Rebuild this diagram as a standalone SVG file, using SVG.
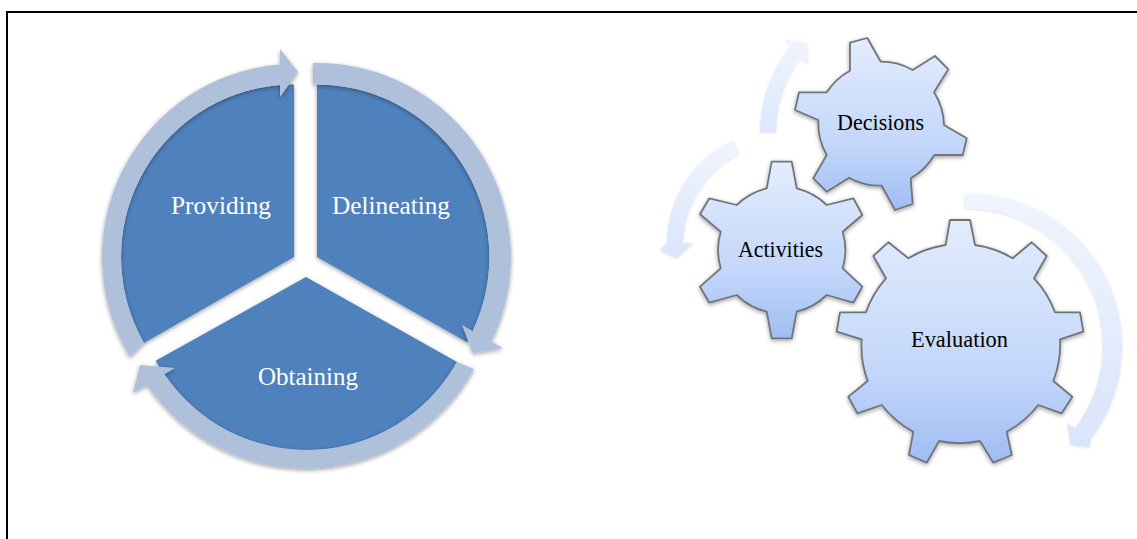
<svg xmlns="http://www.w3.org/2000/svg" width="1137" height="539" viewBox="0 0 1137 539">
<style>
.sector{fill:#4f81bd;filter:url(#sh)}
.ring{fill:#afc0da;filter:url(#sh)}
.gear{stroke:#70757d;stroke-width:1.8;stroke-linejoin:round;filter:url(#sh)}
.flow{filter:url(#soft)}
.w{font-family:"Liberation Serif",serif;font-size:25.5px;fill:#fff}
.b{font-family:"Liberation Serif",serif;font-size:22.5px;fill:#000}
</style>
<defs>
<filter id="sh" x="-15%" y="-15%" width="130%" height="130%"><feDropShadow dx="0" dy="1.5" stdDeviation="2" flood-color="#000" flood-opacity=".38"/></filter>
<filter id="soft" x="-20%" y="-20%" width="140%" height="140%"><feDropShadow dx="0" dy="1" stdDeviation="1.2" flood-color="#000" flood-opacity=".14"/></filter>
<linearGradient id="g" x1="0" y1="0" x2="0" y2="1"><stop offset="0" stop-color="#e3ecfd"/><stop offset=".62" stop-color="#c3d7fa"/><stop offset="1" stop-color="#9fbdf3"/></linearGradient>
<linearGradient id="a1" x1="0" y1="1" x2="0" y2="0"><stop offset="0" stop-color="#dce7fb"/><stop offset="1" stop-color="#f0f5fe"/></linearGradient>
<linearGradient id="a2" x1="0" y1="0" x2="0" y2="1"><stop offset="0" stop-color="#f0f5fe"/><stop offset="1" stop-color="#d9e5fb"/></linearGradient>
</defs>
<rect width="1137" height="539" fill="#fff"/>
<path d="M7,539V12H1137" fill="none" stroke="#000" stroke-width="2"/>

<g id="node-providing">
<path class="sector" d="M294,84.5A172.5 172.5 0 0 0 144,343L294,257Z"/>
<text class="w" x="171" y="214" textLength="100" lengthAdjust="spacingAndGlyphs">Providing</text>
</g>
<g id="node-delineating">
<path class="sector" d="M317,84.5A172.5 172.5 0 0 1 467,342.2L317,257Z"/>
<text class="w" x="332" y="214" textLength="118" lengthAdjust="spacingAndGlyphs">Delineating</text>
</g>
<g id="node-obtaining">
<path class="sector" d="M306,277L457,362A172 172 0 0 1 155.7,360.8Z"/>
<text class="w" x="258" y="385" textLength="100" lengthAdjust="spacingAndGlyphs">Obtaining</text>
</g>

<g id="connectors">
<path class="ring" d="M130,357A193 193 0 0 1 280,64.5L280,49L298,72L280,97L280,85A172.5 172.5 0 0 0 144,343Z"/>
<path class="ring" d="M313,63A194 194 0 0 1 491.5,341.6L503,348L473,353L462,325L472.7,331A172.5 172.5 0 0 0 313,84.5Z"/>
<path class="ring" d="M474,369A192 192 0 0 1 146.9,384.75L133,393L140,365L175,368L164.5,374.25A172 172 0 0 0 457,362Z"/>
<path class="flow" fill="url(#a1)" d="M760,131.7C760,100 772,68 791,45L785,39.3L807,43L808,63.3L800,58C786,78 776,105 776,131.7Z"/>
<path class="flow" fill="url(#a2)" d="M733,140.7C695,156 668,197 666.7,243L660,250L677,258L693,243L683,243C684,205 708,169 739.3,153.3Z"/>
<path class="flow" fill="url(#a2)" d="M965,193.3A153 153 0 0 1 1090,440L1090,447L1070.7,445L1067,423L1075,428A137 137 0 0 0 965,208.3Z"/>
</g>

<g id="node-decisions">
<path class="gear" fill="url(#g)" d="M850,42.7L867.3,38L880.7,61.7A64 64 0 0 1 912.7,70L935,56L948.3,69.3L934,92.3A64 64 0 0 1 944,125L966.7,138.3L962.7,155L934.3,155A64 64 0 0 1 910.7,178.3L912.7,204L895,210L881.7,185.7A64 64 0 0 1 849,177.7L826.7,191.7L813.3,178.3L826.7,155A64 64 0 0 1 818.3,120L795,110L799,92.3L826.7,92.3A64 64 0 0 1 850,70.7Z"/>
<text class="b" x="837" y="130" textLength="87" lengthAdjust="spacingAndGlyphs">Decisions</text>
</g>
<g id="node-activities">
<path class="gear" fill="url(#g)" d="M771.7,161.7L791.7,161.7L796.7,188.3A65 65 0 0 1 826.7,205L853.3,198.3L862.3,215L842.7,231.7A65 65 0 0 1 842.7,268.3L862.3,286.7L853.3,302.7L826.7,295A65 65 0 0 1 796.7,311.7L791.7,338.3L771.7,338.3L766.7,311.7A65 65 0 0 1 736.7,295L709.3,302.7L700,286.7L720.7,268.3A65 65 0 0 1 720.7,231.7L700,214.3L709.3,198.3L736.7,205A65 65 0 0 1 766.7,188.3Z"/>
<text class="b" x="738" y="257" textLength="85" lengthAdjust="spacingAndGlyphs">Activities</text>
</g>
<g id="node-evaluation">
<path class="gear" fill="url(#g)" d="M950,220L970,220L975,245A100 100 0 0 1 1012.7,258.3L1031.7,242.3L1046.7,256L1034,278.3A100 100 0 0 1 1055,312.3L1080,312.3L1083.3,331.7L1060,339.3A100 100 0 0 1 1053.3,381L1072.3,396.7L1061.7,413.3L1038.3,405A100 100 0 0 1 1006.7,431.7L1011.7,455L993.3,462.7L980,441A100 100 0 0 1 939,441L926.7,462.7L909,455L913.3,431.7A100 100 0 0 1 881.7,405L857.3,413.3L848.3,396.7L867.7,381A100 100 0 0 1 861.7,339.3L836.7,331.7L840,312.3L866,312.3A100 100 0 0 1 886,278.3L873.3,256L888.3,242.3L908.3,258.3A100 100 0 0 1 945.7,245Z"/>
<text class="b" x="911" y="347" textLength="97" lengthAdjust="spacingAndGlyphs">Evaluation</text>
</g>
</svg>
